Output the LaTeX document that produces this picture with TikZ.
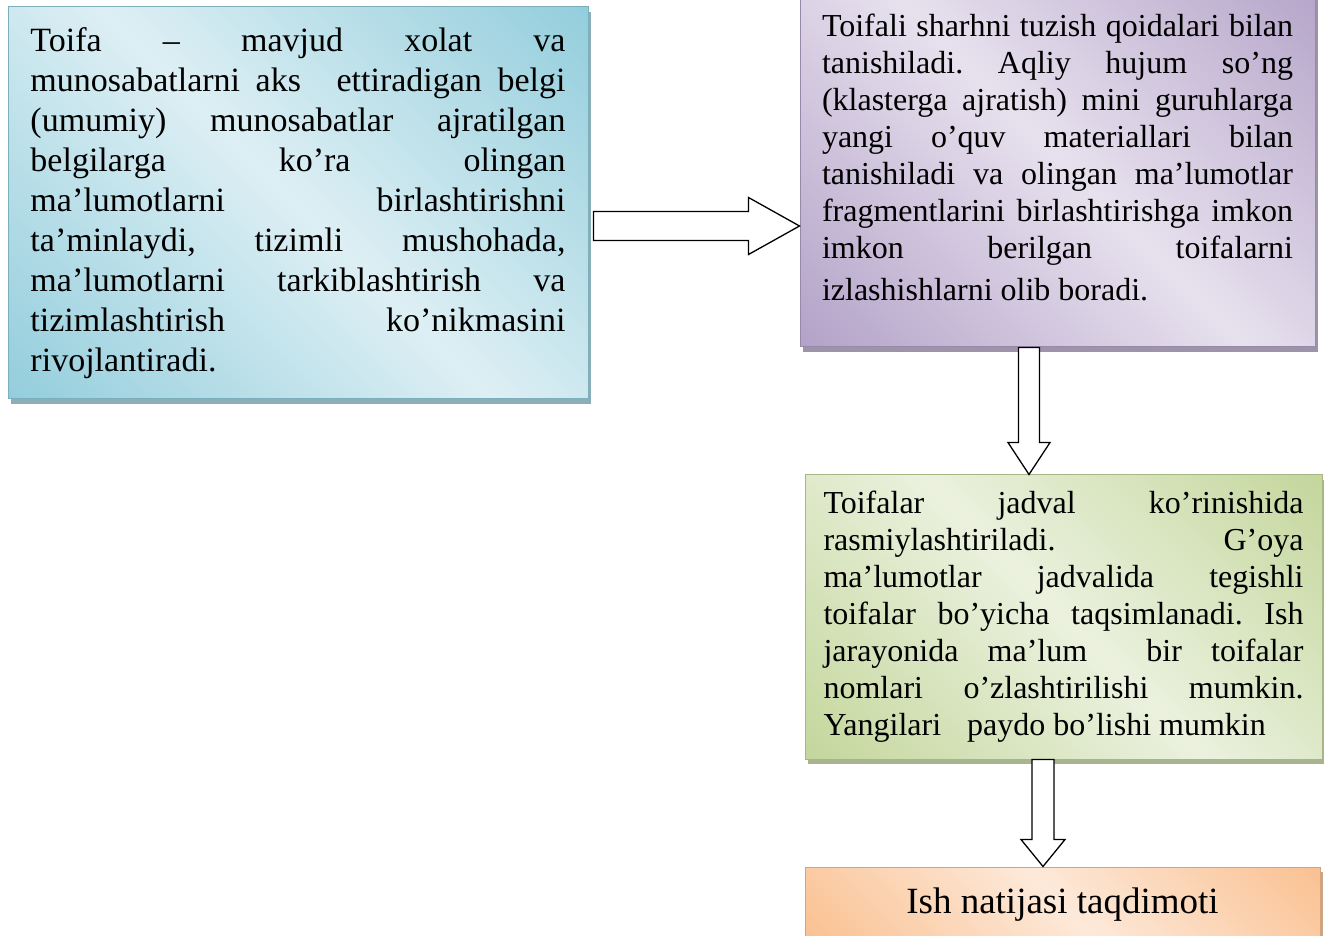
\documentclass[tikz,border=0pt]{standalone}
\usepackage{fontspec}
\setmainfont{Liberation Serif}
\usetikzlibrary{calc,shadows}
\definecolor{bluedk}{HTML}{92CDDC}
\definecolor{bluelt}{HTML}{DDEFF4}
\definecolor{lilacdk}{HTML}{B2A1C7}
\definecolor{lilaclt}{HTML}{E7E1EE}
\definecolor{greendk}{HTML}{C3D69B}
\definecolor{greenlt}{HTML}{EBF1DE}
\definecolor{orangedk}{HTML}{FAC090}
\definecolor{orangelt}{HTML}{FDE9D9}
\pgfdeclarehorizontalshading{bluesh}{100bp}{color(0bp)=(bluedk); color(14bp)=(bluedk); color(50bp)=(bluelt); color(86bp)=(bluedk); color(100bp)=(bluedk)}
\pgfdeclarehorizontalshading{lilacsh}{100bp}{color(0bp)=(lilacdk); color(14bp)=(lilacdk); color(50bp)=(lilaclt); color(86bp)=(lilacdk); color(100bp)=(lilacdk)}
\pgfdeclarehorizontalshading{greensh}{100bp}{color(0bp)=(greendk); color(14bp)=(greendk); color(50bp)=(greenlt); color(86bp)=(greendk); color(100bp)=(greendk)}
\pgfdeclarehorizontalshading{orangesh}{100bp}{color(0bp)=(orangedk); color(14bp)=(orangedk); color(50bp)=(orangelt); color(86bp)=(orangedk); color(100bp)=(orangedk)}
% one justified line of a box
\newcommand{\fullline}[1]{\makebox[\hsize][s]{#1}\\}
\tikzset{
  stagebox/.style={rectangle, inner sep=0pt, align=justify, draw=#1dk!85!black, line width=0.5pt,
    shade, shading=#1sh, shading angle=45,
    drop shadow={shadow xshift=1.5pt, shadow yshift=-2.5pt, fill=#1dk!60!gray, opacity=1}},
  fatarrow/.style n args={3}{draw, fill=white, line width=0.65pt, to path={
    ($(\tikztotarget)!#3!(\tikztostart)$) coordinate (fa)
    ($(\tikztostart)!#1!90:(\tikztotarget)$) -- ($(fa)!#1!-90:(\tikztostart)$)
    -- ($(fa)!#2!-90:(\tikztostart)$) -- (\tikztotarget)
    -- ($(fa)!#2!90:(\tikztostart)$) -- ($(fa)!#1!90:(\tikztostart)$)
    -- ($(\tikztostart)!#1!-90:(\tikztotarget)$) -- cycle}}
}
\frenchspacing
\begin{document}
\begin{tikzpicture}[x=0.5pt, y=-0.5pt]
  \path[use as bounding box] (0,0) rectangle (1324,936);
  \clip (0,0) rectangle (1324,936);
  % first box: what a category is
  \node[stagebox=blue, minimum width=290pt, minimum height=196pt, text width=267.5pt,
        font=\fontsize{17}{20}\selectfont] (toifa) at (298,203) {%
    \fullline{Toifa – mavjud xolat va}
    \fullline{munosabatlarni aks\hspace{10pt} ettiradigan belgi}
    \fullline{(umumiy) munosabatlar ajratilgan}
    \fullline{belgilarga ko’ra olingan}
    \fullline{ma’lumotlarni birlashtirishni}
    \fullline{ta’minlaydi, tizimli mushohada,}
    \fullline{ma’lumotlarni tarkiblashtirish va}
    \fullline{tizimlashtirish ko’nikmasini}
    rivojlantiradi.};
  % second box, cut by the top edge
  \node[stagebox=lilac, minimum width=257.5pt, minimum height=190pt, text width=235.5pt,
        font=\fontsize{16}{18.5}\selectfont] (tanish) at (1057.5,157) {%
    \fullline{Toifali sharhni tuzish qoidalari bilan}
    \fullline{tanishiladi. Aqliy hujum so’ng}
    \fullline{(klasterga ajratish) mini guruhlarga}
    \fullline{yangi o’quv materiallari bilan}
    \fullline{tanishiladi va olingan ma’lumotlar}
    \fullline{fragmentlarini birlashtirishga imkon}
    \makebox[\hsize][s]{imkon berilgan toifalarni}\\[2.5pt]
    izlashishlarni olib boradi.};
  % third box: the table
  \node[stagebox=green, minimum width=258.5pt, minimum height=142pt, text width=240pt,
        font=\fontsize{16}{18.5}\selectfont] (jadval) at (1063.5,617) {%
    \fullline{Toifalar jadval ko’rinishida}
    \fullline{rasmiylashtiriladi. G’oya}
    \fullline{ma’lumotlar jadvalida tegishli}
    \fullline{toifalar bo’yicha taqsimlanadi. Ish}
    \fullline{jarayonida ma’lum\hspace{15pt} bir toifalar}
    \fullline{nomlari o’zlashtirilishi mumkin.}
    Yangilari\hspace{9pt} paydo bo’lishi mumkin};
  % last box, cut by the bottom edge
  \node[stagebox=orange, minimum width=257.5pt, minimum height=37.5pt,
        font=\fontsize{18.5}{22}\selectfont] (natija) at (1062.5,904.5) {Ish natijasi taqdimoti};
  % block arrows between the boxes
  \coordinate (ra) at ([xshift=2.5pt, yshift=-11.5pt]toifa.east);
  \draw[fatarrow={7.25pt}{14.25pt}{25.5pt}] (ra) to (ra -| tanish.west);
  \coordinate (da) at ([xshift=-14.25pt]tanish.south);
  \draw[fatarrow={5.25pt}{10.5pt}{16pt}] (da) to (da |- jadval.north);
  \coordinate (db) at ([xshift=-10.25pt]jadval.south);
  \draw[fatarrow={5.5pt}{11pt}{13.5pt}] (db) to (db |- natija.north);
\end{tikzpicture}
\end{document}
